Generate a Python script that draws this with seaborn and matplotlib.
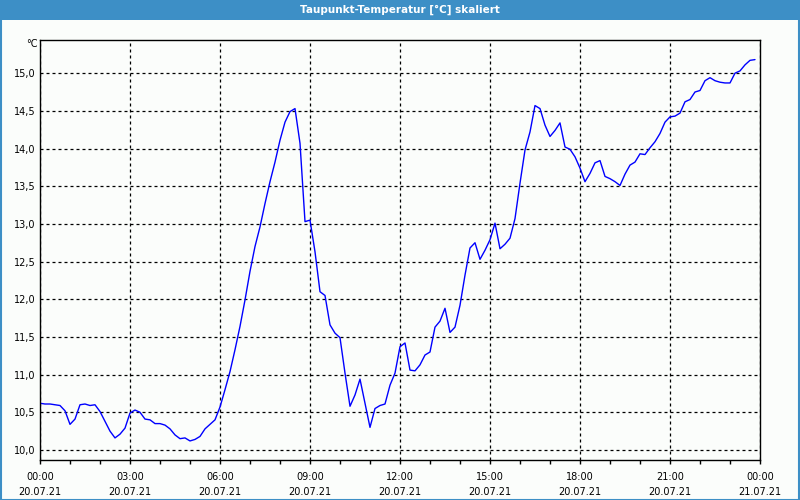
import numpy as np
import pandas as pd
import matplotlib
matplotlib.use("Agg")
import matplotlib.pyplot as plt
import seaborn as sns
from matplotlib.patches import Rectangle
from matplotlib.ticker import MultipleLocator, FixedLocator, FuncFormatter
from matplotlib.transforms import offset_copy

# ---- data (10-minute samples, 20.07.21 00:00 .. 23:50) ----
dewpoint = [
    10.62, 10.61, 10.61, 10.60, 10.59, 10.52, 10.34, 10.41, 10.60, 10.61,
    10.59, 10.60, 10.51, 10.38, 10.25, 10.16, 10.21, 10.29, 10.49, 10.53,
    10.50, 10.41, 10.40, 10.35, 10.35, 10.33, 10.28, 10.20, 10.15, 10.16,
    10.12, 10.14, 10.18, 10.28, 10.34, 10.40, 10.57, 10.80, 11.04, 11.33,
    11.64, 11.99, 12.37, 12.70, 12.96, 13.27, 13.56, 13.82, 14.11, 14.35,
    14.49, 14.53, 14.07, 13.03, 13.05, 12.63, 12.10, 12.05, 11.66, 11.55,
    11.49, 11.02, 10.58, 10.73, 10.94, 10.62, 10.30, 10.55, 10.59, 10.61,
    10.86, 11.02, 11.37, 11.42, 11.06, 11.05, 11.13, 11.26, 11.30, 11.63,
    11.71, 11.88, 11.56, 11.63, 11.92, 12.32, 12.68, 12.75, 12.53, 12.65,
    12.79, 13.01, 12.67, 12.73, 12.81, 13.07, 13.54, 13.98, 14.22, 14.57,
    14.53, 14.31, 14.16, 14.24, 14.34, 14.02, 13.99, 13.89, 13.74, 13.56,
    13.67, 13.81, 13.84, 13.63, 13.60, 13.56, 13.51, 13.66, 13.78, 13.82,
    13.93, 13.92, 14.01, 14.09, 14.20, 14.35, 14.42, 14.43, 14.47, 14.62,
    14.65, 14.75, 14.77, 14.90, 14.94, 14.90, 14.88, 14.87, 14.87, 15.00,
    15.03, 15.11, 15.17, 15.18,
]
hours = [i / 6 for i in range(len(dewpoint))]
tick_hours = [0, 3, 6, 9, 12, 15, 18, 21, 24]
tick_labels = ["00:00\n20.07.21", "03:00\n20.07.21", "06:00\n20.07.21",
               "09:00\n20.07.21", "12:00\n20.07.21", "15:00\n20.07.21",
               "18:00\n20.07.21", "21:00\n20.07.21", "00:00\n21.07.21"]
y_ticks = [10.0, 10.5, 11.0, 11.5, 12.0, 12.5, 13.0, 13.5, 14.0, 14.5, 15.0]
title = "Taupunkt-Temperatur [°C] skaliert"
unit = "°C"

df = pd.DataFrame({"hour": hours, "value": dewpoint})

sns.set_theme(style="white")
plt.rcParams["font.family"] = ["DejaVu Sans"]
plt.rcParams["text.color"] = "black"
plt.rcParams["xtick.color"] = "black"
plt.rcParams["ytick.color"] = "black"

BG = "#fbfdfb"
BLUE_BAR = "#3d8fc6"

fig = plt.figure(figsize=(8, 5), dpi=100, facecolor=BG)
ax = fig.add_axes([0.05, 0.08, 0.90, 0.84])
ax.set_facecolor(BG)

sns.lineplot(data=df, x="hour", y="value", ax=ax, color="#0000ff", linewidth=1.0)

ax.set_xlim(0, 24)
ax.set_ylim(9.867, 15.44)
ax.set_xlabel("")
ax.set_ylabel("")

ax.xaxis.set_major_locator(FixedLocator(tick_hours))
ax.set_xticklabels(tick_labels, fontsize=7, linespacing=1.55, color="black")
ax.xaxis.set_minor_locator(MultipleLocator(1))
ax.set_yticks(y_ticks)
ax.yaxis.set_major_formatter(FuncFormatter(lambda v, p: f"{v:.1f}".replace(".", ",")))
ax.tick_params(axis="y", labelsize=7, length=0, pad=3, labelcolor="black")
ax.tick_params(axis="x", which="major", direction="out", length=3, width=1, color="black", pad=6, bottom=True)
ax.tick_params(axis="x", which="minor", direction="out", length=3, width=1, color="black", bottom=True)

ax.grid(True, which="major", color="black", linestyle=(0, (2.4, 2.4)), linewidth=0.9)
for s in ax.spines.values():
    s.set_visible(True)
    s.set_color("black")
    s.set_linewidth(1.0)

ax.text(-0.003, 1.0, unit, transform=offset_copy(ax.transAxes, fig=fig, x=0, y=-4, units="dots"),
        ha="right", va="center", fontsize=7, color="black")

# title bar
fig.patches.append(Rectangle((0, 1 - 20 / 500), 1, 20 / 500, transform=fig.transFigure,
                             facecolor=BLUE_BAR, edgecolor="none", zorder=0))
fig.patches.append(Rectangle((0.001, 0.001), 0.998, 0.998, transform=fig.transFigure,
                             facecolor="none", edgecolor=BLUE_BAR, linewidth=1.5, zorder=5))
fig.text(0.5, 1 - 10 / 500, title, ha="center", va="center", color="white",
         fontsize=7.5, fontweight="bold")

fig.savefig("out.png", dpi=100, facecolor=BG)
